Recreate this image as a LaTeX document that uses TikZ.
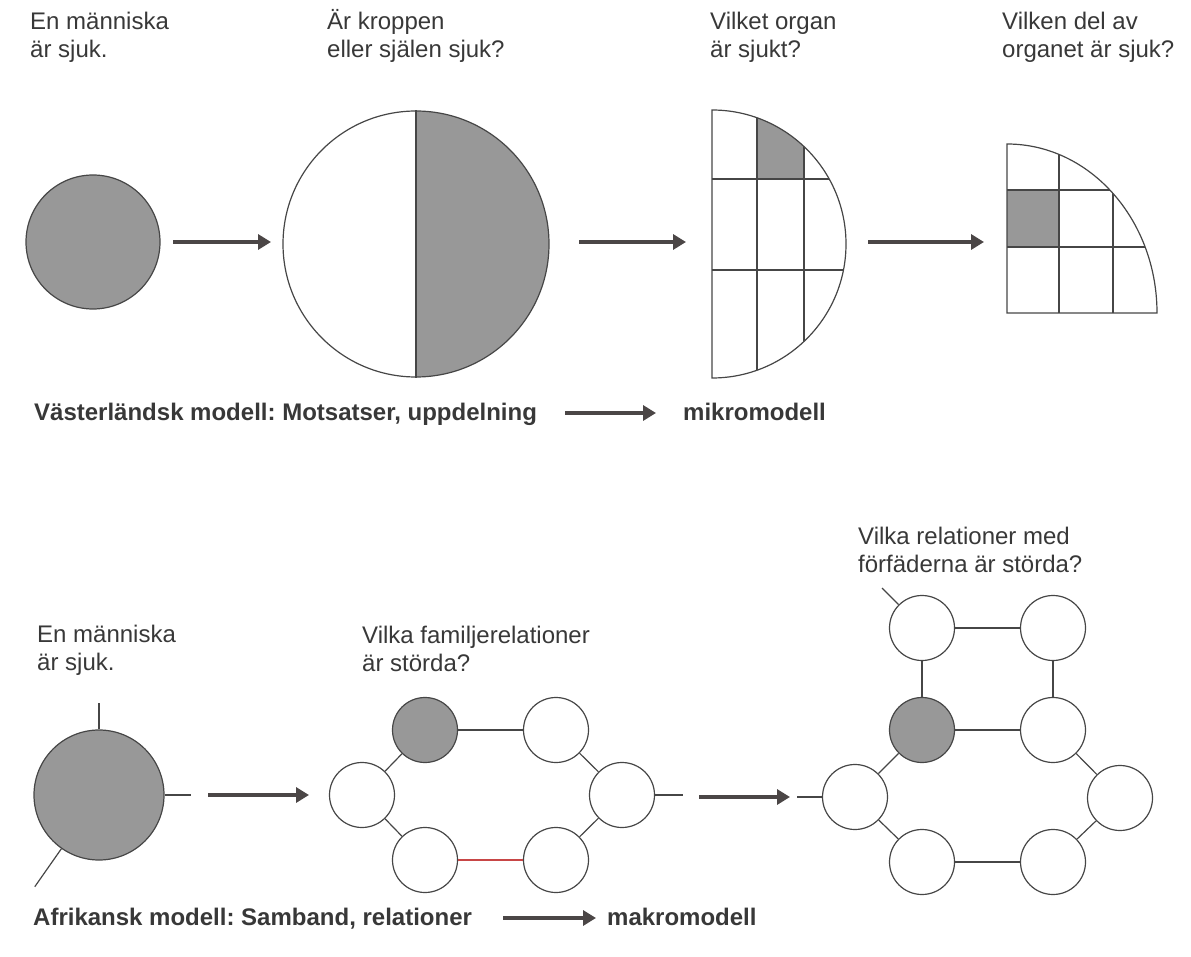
\documentclass[tikz,border=0pt]{standalone}
\usepackage{fontspec}
\setmainfont{Liberation Sans}
\usetikzlibrary{arrows.meta,calc}
\definecolor{ink}{RGB}{70,70,70}
\definecolor{grafarg}{RGB}{152,152,152}
\definecolor{pilfarg}{RGB}{75,70,70}
\definecolor{rodlinje}{RGB}{200,70,70}
\frenchspacing
\tikzset{
  lbl/.style={font=\fontsize{24}{28}\selectfont, text=ink!80!black, align=left, anchor=base west, inner sep=0pt},
  modelltext/.style={font=\bfseries\fontsize{24}{28}\selectfont, text=ink!80!black, anchor=base west, inner sep=0pt},
  person/.style={circle, draw=ink, line width=1.2pt, inner sep=0pt, minimum size=65pt, fill=white},
  pil/.style={draw=pilfarg, line width=3.8pt, -{Triangle[length=13pt,width=15pt]}},
  band/.style={draw=ink, line width=1.2pt}
}
\begin{document}
\begin{tikzpicture}[x=1pt,y=1pt]
\useasboundingbox (0,0) rectangle (1191,-957);

% ---------- vasterlandsk modell ----------
\node[lbl] (t1) at (30,-58) {En människa\\är sjuk.};
\node[lbl] (t2) at (327,-58) {Är kroppen\\eller själen sjuk?};
\node[lbl] (t3) at (710,-58) {Vilket organ\\är sjukt?};
\node[lbl] (t4) at (1002,-58) {Vilken del av\\organet är sjuk?};

\node[person, minimum size=134pt, fill=grafarg] (sjuk) at (93,-242) {};
\node[person, minimum size=266pt,
  path picture={\fill[grafarg] (path picture bounding box.north) rectangle (path picture bounding box.south east);}]
  (kropp) at (416,-244) {};
\draw[band] (kropp.north) -- (kropp.south);

\coordinate (A1) at (173,-242);
\coordinate (B1) at (271,-242);
\coordinate (A2) at (579,-242);
\coordinate (B2) at (686,-242);
\coordinate (A3) at (868,-242);
\coordinate (B3) at (984,-242);
\draw[pil] (A1) -- (B1);
\draw[pil] (A2) -- (B2);
\draw[pil] (A3) -- (B3);

% organ (halvcirkel)
\begin{scope}
\clip (712,-110) arc[start angle=90, end angle=-90, radius=134] -- cycle;
\fill[grafarg] (757,-100) rectangle (804,-179);
\draw[band] (757,-100) -- (757,-390);
\draw[band] (804,-100) -- (804,-390);
\draw[band] (700,-179) -- (860,-179);
\draw[band] (700,-270) -- (860,-270);
\end{scope}
\draw[band] (712,-110) arc[start angle=90, end angle=-90, radius=134] -- cycle;

% del av organet (kvartscirkel)
\begin{scope}
\clip (1007,-313) -- (1007,-144) arc[start angle=90, end angle=0, x radius=150, y radius=169] -- cycle;
\fill[grafarg] (1007,-190) rectangle (1059,-247);
\draw[band] (1059,-130) -- (1059,-320);
\draw[band] (1113,-130) -- (1113,-320);
\draw[band] (1000,-190) -- (1170,-190);
\draw[band] (1000,-247) -- (1170,-247);
\end{scope}
\draw[band] (1007,-313) -- (1007,-144) arc[start angle=90, end angle=0, x radius=150, y radius=169] -- cycle;

\node[modelltext] (vast) at (34,-420) {Västerländsk modell: Motsatser, uppdelning};
\node[modelltext] (mikro) at (683,-420) {mikromodell};
\coordinate (V1) at (565,-413);
\coordinate (V2) at (656,-413);
\draw[pil] (V1) -- (V2);

% ---------- afrikansk modell ----------
\node[lbl] (u1) at (37,-670) {En människa\\är sjuk.};
\node[lbl] (u2) at (362,-671) {Vilka familjerelationer\\är störda?};
\node[lbl] (u3) at (858,-572) {Vilka relationer med\\förfäderna är störda?};

\node[person, minimum size=130pt, fill=grafarg] (manniska) at (99,-795) {};
\coordinate (m1) at (99,-703);
\coordinate (m2) at (191,-795);
\coordinate (m3) at ($(manniska.center)+(235:112)$);
\draw[band] (manniska.north) -- (m1);
\draw[band] (manniska.east) -- (m2);
\draw[band] (manniska.235) -- (m3);

\coordinate (C1) at (208,-795);
\coordinate (D1) at (309,-795);
\coordinate (C2) at (699,-797);
\coordinate (D2) at (790,-797);
\draw[pil] (C1) -- (D1);
\draw[pil] (C2) -- (D2);

% familjen
\node[person, fill=grafarg] (f1) at (425,-730) {};
\node[person] (f2) at (556,-730) {};
\node[person] (f3) at (622,-795) {};
\node[person] (f4) at (556,-860) {};
\node[person] (f5) at (425,-860) {};
\node[person] (f6) at (362,-795) {};
\draw[band] (f1) -- (f2);
\draw[band] (f2) -- (f3);
\draw[band] (f3) -- (f4);
\draw[band, draw=rodlinje] (f4) -- (f5);
\draw[band] (f5) -- (f6);
\draw[band] (f6) -- (f1);
\coordinate (f7) at (683,-795);
\draw[band] (f3.east) -- (f7);

% forfaderna
\node[person] (a1) at (922,-628) {};
\node[person] (a2) at (1053,-628) {};
\node[person, fill=grafarg] (a3) at (922,-730) {};
\node[person] (a4) at (1053,-730) {};
\node[person] (a5) at (855,-797) {};
\node[person] (a6) at (1120,-798) {};
\node[person] (a7) at (922,-862) {};
\node[person] (a8) at (1053,-862) {};
\draw[band] (a1) -- (a2);
\draw[band] (a1) -- (a3);
\draw[band] (a2) -- (a4);
\draw[band] (a3) -- (a4);
\draw[band] (a3) -- (a5);
\draw[band] (a4) -- (a6);
\draw[band] (a5) -- (a7);
\draw[band] (a6) -- (a8);
\draw[band] (a7) -- (a8);
\coordinate (a9) at (797,-797);
\coordinate (a10) at (882,-588);
\draw[band] (a5.west) -- (a9);
\draw[band] (a1.135) -- (a10);

\node[modelltext] (afr) at (33,-925) {Afrikansk modell: Samband, relationer};
\node[modelltext] (makro) at (607,-925) {makromodell};
\coordinate (W1) at (503,-918);
\coordinate (W2) at (596,-918);
\draw[pil] (W1) -- (W2);
\end{tikzpicture}
\end{document}
